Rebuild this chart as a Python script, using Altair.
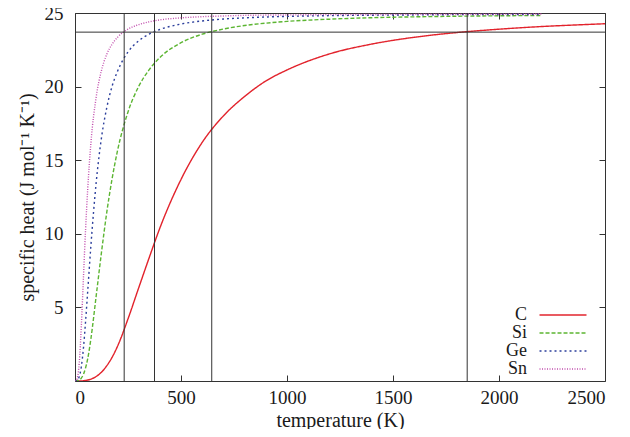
import altair as alt
import pandas as pd

FONT = "serif"

temperatures = [0, 5, 10, 20, 30, 40, 50, 60, 75, 100, 125, 150, 175, 200, 250, 300,
                350, 400, 500, 600, 700, 800, 900, 1000, 1200, 1400, 1600, 1800, 2000, 2200]
c_heat = [0, 0, 0, 0.003, 0.008, 0.020, 0.038, 0.066, 0.129, 0.307, 0.60, 1.04, 1.61, 2.34,
          4.22, 6.31, 8.38, 10.38, 13.69, 16.21, 18.01, 19.33, 20.38, 21.13, 22.22, 22.89,
          23.35, 23.67, 23.90, 24.08]
c_tail_temps = [2350, 2500]
c_tail_heat = [24.18, 24.27]
si_heat = [0, 0.001, 0.007, 0.058, 0.196, 0.46, 0.90, 1.52, 2.87, 5.79, 8.75, 11.47, 13.74,
           15.61, 18.28, 20.00, 21.15, 21.97, 22.98, 23.56, 23.91, 24.15, 24.31, 24.43, 24.58,
           24.68, 24.74, 24.78, 24.81, 24.83]
ge_heat = [0, 0.005, 0.037, 0.295, 0.99, 2.27, 4.07, 6.11, 9.20, 13.49, 16.54, 18.58, 20.03,
           21.02, 22.35, 23.10, 23.57, 23.88, 24.25, 24.46, 24.59, 24.67, 24.73, 24.77, 24.82,
           24.85, 24.87, 24.89, 24.90, 24.90]
sn_heat = [0, 0.019, 0.156, 1.22, 3.79, 7.08, 10.33, 13.04, 16.16, 19.30, 21.10, 22.20, 22.88,
           23.34, 23.90, 24.21, 24.40, 24.53, 24.67, 24.75, 24.80, 24.84, 24.86, 24.87, 24.89,
           24.90, 24.91, 24.92, 24.92, 24.93]

debye_temps = [232, 375, 645, 1850]
debye_heat = [23.7]

elements = ["C", "Si", "Ge", "Sn"]
colors = ["#e2232c", "#5cb532", "#2c3f9c", "#c24fae"]
dashes = [[1, 0], [4, 2], [2, 3], [1, 1.5]]

x_ticks = [0, 500, 1000, 1500, 2000, 2500]
y_ticks = [5, 10, 15, 20, 25]

rows = []
for el, vals in zip(elements, [c_heat, si_heat, ge_heat, sn_heat]):
    for t, v in zip(temperatures, vals):
        rows.append({"temperature": t, "heat": v, "element": el})
for t, v in zip(c_tail_temps, c_tail_heat):
    rows.append({"temperature": t, "heat": v, "element": "C"})
df = pd.DataFrame(rows)
df_v = pd.DataFrame({"temperature": debye_temps})
df_h = pd.DataFrame({"heat": debye_heat})

xscale = alt.Scale(domain=[0, 2500], nice=False, zero=False)
yscale = alt.Scale(domain=[0, 25], nice=False, zero=False)

common = dict(tickSize=6, tickWidth=1, tickColor="#333333", offset=-6, domain=False,
              grid=False, labelFont=FONT, labelFontSize=19, labelColor="#1a1a1a",
              titleFont=FONT, titleFontSize=20, titleFontWeight="normal",
              titleColor="#1a1a1a")

leg = alt.Legend(title=None, orient="none", legendX=479, legendY=293,
                 symbolType="M-4,0H4", symbolSize=138, symbolStrokeWidth=1.5,
                 labelFont=FONT, labelFontSize=18, labelColor="#1a1a1a",
                 labelAlign="right", labelOffset={"expr": "-45"}, rowPadding=0)

lines = alt.Chart(df).mark_line(strokeWidth=1.4, clip=True, interpolate="monotone").encode(
    x=alt.X("temperature:Q", scale=xscale,
            axis=alt.Axis(values=x_ticks, title="temperature (K)", labelPadding=7,
                          titlePadding=3, format="d", **common)),
    y=alt.Y("heat:Q", scale=yscale,
            axis=alt.Axis(values=y_ticks, title="specific heat (J mol⁻¹ K⁻¹)",
                          labelPadding=12, titlePadding=7, format="d", **common)),
    color=alt.Color("element:N", scale=alt.Scale(domain=elements, range=colors), legend=leg),
    strokeDash=alt.StrokeDash("element:N", scale=alt.Scale(domain=elements, range=dashes),
                              legend=leg),
)

vrules = alt.Chart(df_v).mark_rule(color="#333333", strokeWidth=1).encode(
    x=alt.X("temperature:Q", scale=xscale,
            axis=alt.Axis(values=x_ticks, orient="top", labels=False, title=None, **common)),
)
hrules = alt.Chart(df_h).mark_rule(color="#333333", strokeWidth=1).encode(
    y=alt.Y("heat:Q", scale=yscale,
            axis=alt.Axis(values=y_ticks, orient="right", labels=False, title=None, **common)),
)

chart = alt.layer(lines, vrules, hrules).resolve_axis(x="independent", y="independent").properties(
    width=530, height=368,
    autosize=alt.AutoSizeParams(type="none"),
    padding={"left": 67, "top": 5, "right": 17, "bottom": 48},
    background="white",
).configure(font=FONT).configure_view(stroke="#333333", strokeWidth=1)

chart.save("out.html", embed_options={"renderer": "svg", "actions": False})
